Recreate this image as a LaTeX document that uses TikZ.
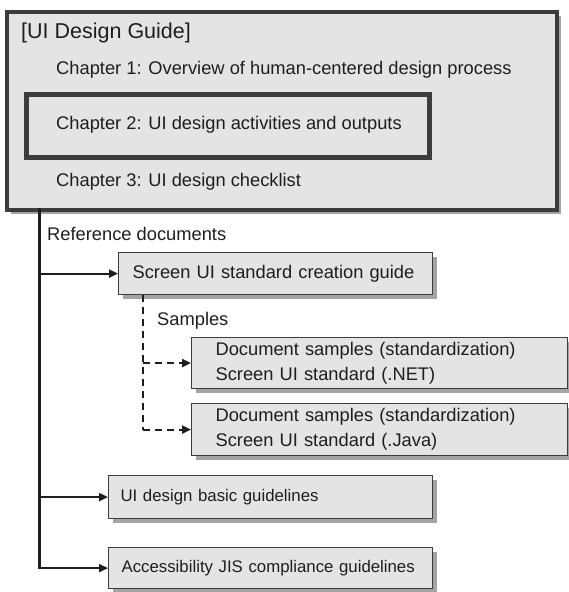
\documentclass[tikz,border=0pt]{standalone}
\usepackage{fontspec}
\setmainfont{Liberation Sans}
\usetikzlibrary{arrows.meta,shadows}
\definecolor{boxfill}{HTML}{E4E4E4}
\definecolor{boxline}{HTML}{3C3C3C}
\definecolor{shade}{HTML}{A4A4A4}
\definecolor{ink}{HTML}{1E1E1E}
\begin{document}
\begin{tikzpicture}[x=1pt,y=-1pt,
  txt/.style={font=\fontsize{18.3}{25}\selectfont, text=ink, inner sep=0pt, anchor=west},
  docbox/.style={draw=boxline, line width=1.2pt, fill=boxfill, anchor=north west,
    font=\fontsize{18.3}{25}\selectfont, text=ink, align=left, inner ysep=0pt,
    drop shadow={shadow xshift=4.5pt, shadow yshift=-4.5pt, fill=shade, opacity=1}},
  small/.style={font=\fontsize{16.8}{22}\selectfont},
  trunkline/.style={draw=ink, line width=3pt},
  link/.style={draw=ink, line width=2pt},
  tip/.style={-{Triangle[length=9pt,width=8pt]}},
  dlink/.style={draw=ink, line width=2.2pt, dash pattern=on 7pt off 5pt}]
\useasboundingbox (0,0) rectangle (569,592);
% outer box
\node[draw=boxline, line width=4pt, fill=boxfill, anchor=north west,
  minimum width=550pt, minimum height=198pt, inner sep=0pt,
  drop shadow={shadow xshift=4pt, shadow yshift=-4pt, fill=shade, opacity=1}] (outer) at (5,10) {};
\node[txt, font=\fontsize{21.5}{25}\selectfont] (title) at (21,33) {[UI Design Guide]};
\node[txt] (ch1) at (56,70) {Chapter 1: Overview of human-centered design process};
\node[draw=boxline, line width=4.5pt, fill=boxfill, anchor=north west,
  minimum width=403pt, minimum height=63pt, inner sep=0pt,
  drop shadow={shadow xshift=3pt, shadow yshift=-3pt, fill=shade, opacity=1}] (ch2box) at (24,92) {};
\node[txt] (ch2) at (56,125) {Chapter 2: UI design activities and outputs};
\node[txt] (ch3) at (56,182) {Chapter 3: UI design checklist};
% reference label
\node[txt] (reflabel) at (47,234) {Reference documents};
% boxes
\node[docbox, text width=286pt, inner xsep=14pt, minimum height=42pt] (screen) at (118,252) {Screen UI standard creation guide};
\node[txt] (samples) at (157,321) {Samples};
\node[docbox, text width=328pt, inner xsep=24pt, minimum height=51pt] (net) at (191,337) {Document samples (standardization)\\Screen UI standard (.NET)};
\node[docbox, text width=328pt, inner xsep=24pt, minimum height=52pt] (java) at (191,403) {Document samples (standardization)\\Screen UI standard (.Java)};
\node[docbox, small, text width=300pt, inner xsep=12pt, minimum height=43pt] (basic) at (108,475) {UI design basic guidelines};
\node[docbox, small, text width=298pt, inner xsep=13pt, minimum height=41pt] (access) at (108,547) {Accessibility JIS compliance guidelines};
% trunk
\coordinate (trunk) at (39,208);
\draw[trunkline] (trunk) -- ([yshift=-1pt]trunk |- access.west);
\draw[link, tip] (trunk |- screen.west) -- (screen.west);
\draw[link, tip] (trunk |- basic.west) -- (basic.west);
\draw[link, tip] (trunk |- access.west) -- (access.west);
% dashed branch
\coordinate (dtop) at ([xshift=25pt]screen.south west);
\draw[dlink] (dtop) -- (dtop |- java.west);
\draw[dlink, tip] (dtop |- net.west) -- (net.west);
\draw[dlink, tip] (dtop |- java.west) -- (java.west);
\end{tikzpicture}
\end{document}
